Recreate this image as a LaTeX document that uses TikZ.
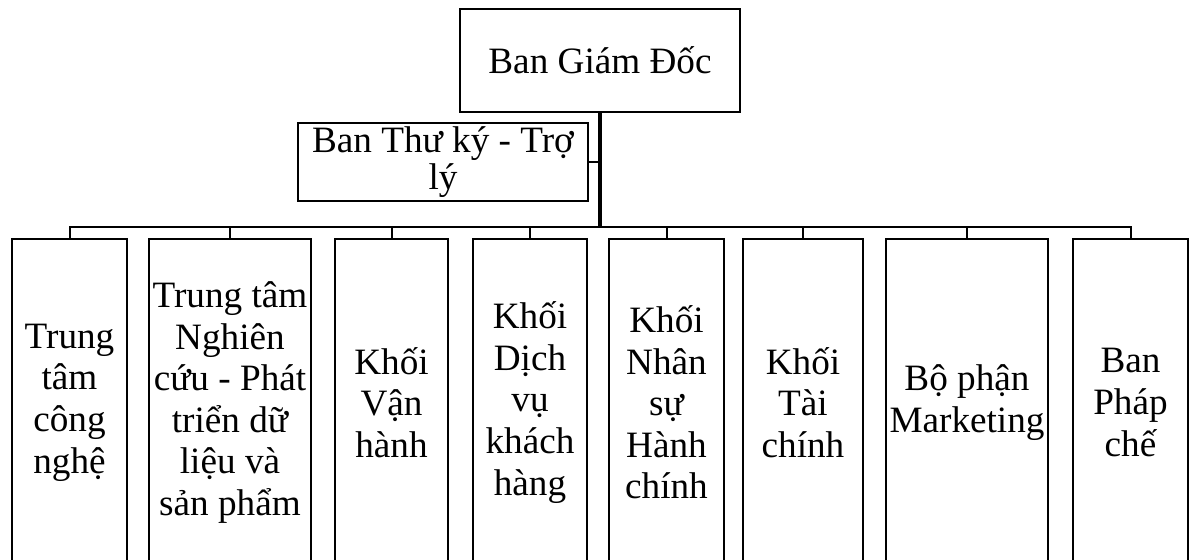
\documentclass[tikz,border=0pt]{standalone}
\usepackage{fontspec}
\setmainfont{Liberation Serif}
\begin{document}
\begin{tikzpicture}[x=0.5pt,y=-0.5pt,
  orgbox/.style={draw, line width=1pt, inner sep=0pt, align=center,
    font=\fontsize{18.6}{20.8}\selectfont},
  unit/.style={orgbox, minimum height=163.5pt},
  link/.style={line width=1pt},
  trunk/.style={line width=1.8pt}]
\clip (0,0) rectangle (1190,560);
\fill[white] (0,0) rectangle (1190,560);

% Management and secretariat
\node[orgbox, minimum width=140pt, minimum height=51.5pt] (top) at (600,60.5) {Ban Giám Đốc};
\node[orgbox, minimum width=145pt, minimum height=39pt] (sec) at (443,162) {Ban Thư ký - Trợ\\[-2pt]lý};

% Departments
\node[unit, minimum width=57.5pt] (c1) at (69.5,402.5) {Trung\\tâm\\công\\nghệ};
\node[unit, minimum width=81pt]   (c2) at (230,402.5) {Trung tâm\\Nghiên\\cứu - Phát\\triển dữ\\liệu và\\sản phẩm};
\node[unit, minimum width=56.5pt] (c3) at (391.5,402.5) {Khối\\Vận\\hành};
\node[unit, minimum width=57pt]   (c4) at (530,402.5) {Khối\\Dịch\\vụ\\khách\\hàng};
\node[unit, minimum width=57.5pt] (c5) at (666.5,402.5) {Khối\\Nhân\\sự\\Hành\\chính};
\node[unit, minimum width=60pt]   (c6) at (803,402.5) {Khối\\Tài\\chính};
\node[unit, minimum width=81pt]   (c7) at (967,402.5) {Bộ phận\\Marketing};
\node[unit, minimum width=57.5pt] (c8) at (1130.5,402.5) {Ban\\Pháp\\chế};

% Distribution bus
\coordinate (busL) at (69.5,227);
\coordinate (busR) at (1130.5,227);
\draw[link] (c1.north) -- (c1.north |- busL) -- (busR) -- (c8.north);
\foreach \n in {c2,c3,c4,c5,c6,c7}
  \draw[link] (\n.north) -- (\n.north |- busL);

% Trunk from management to the bus, with the secretariat branch
\draw[trunk] (top.south) -- (top.south |- busL);
\draw[link] (sec.east) -- (sec.east -| top.south);
\end{tikzpicture}
\end{document}
